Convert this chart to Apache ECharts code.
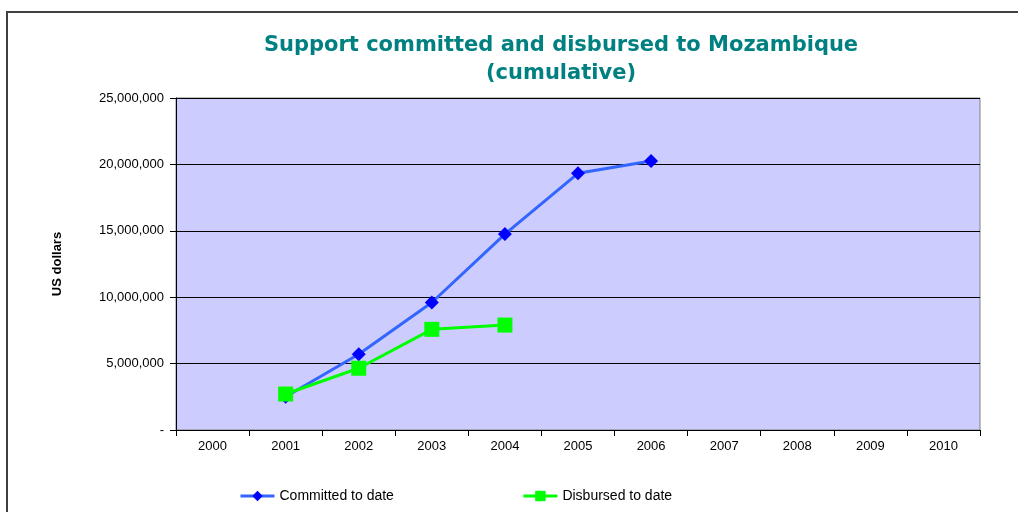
<!DOCTYPE html>
<html>
<head>
<meta charset="utf-8">
<script src="https://cdn.jsdelivr.net/npm/echarts@6/dist/echarts.min.js"></script>
<style>
  html, body { margin: 0; padding: 0; background: #fff; }
  #chart { width: 1018px; height: 512px; }
</style>
</head>
<body>
<div id="chart"></div>
<script>
const years = ['2000', '2001', '2002', '2003', '2004', '2005', '2006', '2007', '2008', '2009', '2010']
const committed = [null, 2500000, 5700000, 9600000, 14750000, 19330000, 20250000, null, null, null, null]
const disbursed = [null, 2710000, 4650000, 7580000, 7900000, null, null, null, null, null, null]

const myChart = echarts.init(document.getElementById('chart'))

const fmt = (v) => v === 0 ? '-' : v.toString().replace(/\B(?=(\d{3})+(?!\d))/g, ',')

const option = {
  animation: false,
  backgroundColor: '#fff',
  title: {
    text: 'Support committed and disbursed to Mozambique\n(cumulative)',
    left: 556,
    textAlign: 'center',
    top: 27,
    textStyle: {
      color: '#008080',
      fontFamily: 'DejaVu Sans',
      fontWeight: 'bold',
      fontSize: 21,
      lineHeight: 28
    }
  },
  graphic: [
    {
      type: 'rect',
      shape: { x: 7, y: 12, width: 1030, height: 520 },
      style: { fill: 'none', stroke: '#404040', lineWidth: 2 },
      silent: true
    }
  ],
  legend: {
    bottom: 4,
    left: 234,
    itemGap: 128,
    itemWidth: 34,
    itemHeight: 13,
    textStyle: { color: '#000', fontFamily: 'Liberation Sans', fontSize: 14 },
    data: [
      { name: 'Committed to date', lineStyle: { width: 3 } },
      { name: 'Disbursed to date', lineStyle: { width: 3 } }
    ]
  },
  grid: {
    left: 176,
    right: 38,
    top: 98,
    bottom: 82,
    show: true,
    backgroundColor: '#CCCCFF',
    borderColor: '#808080',
    borderWidth: 1
  },
  xAxis: {
    type: 'category',
    data: years,
    boundaryGap: true,
    axisLine: { lineStyle: { color: '#000', width: 1 } },
    axisTick: { show: true, length: 6, lineStyle: { color: '#000' } },
    axisLabel: { color: '#000', fontFamily: 'Liberation Sans', fontSize: 13, margin: 10 }
  },
  yAxis: {
    type: 'value',
    min: 0,
    max: 25000000,
    interval: 5000000,
    name: 'US dollars',
    nameLocation: 'middle',
    nameGap: 112,
    nameTextStyle: { color: '#000', fontFamily: 'Liberation Sans', fontWeight: 'bold', fontSize: 13 },
    axisLine: { show: true, lineStyle: { color: '#000' } },
    axisTick: { show: true, length: 6, lineStyle: { color: '#000' } },
    axisLabel: { color: '#000', fontFamily: 'Liberation Sans', fontSize: 13, margin: 12, formatter: fmt },
    splitLine: { show: true, lineStyle: { color: '#000', width: 1 } }
  },
  series: [
    {
      name: 'Committed to date',
      type: 'line',
      data: committed,
      symbol: 'diamond',
      symbolSize: 14,
      lineStyle: { color: '#3366FF', width: 3 },
      itemStyle: { color: '#0000FF' },
      z: 2
    },
    {
      name: 'Disbursed to date',
      type: 'line',
      data: disbursed,
      symbol: 'rect',
      symbolSize: 15,
      lineStyle: { color: '#00FF00', width: 3 },
      itemStyle: { color: '#00FF00' },
      z: 3
    }
  ]
}

option && myChart.setOption(option)

window.addEventListener('resize', function () {
  myChart.resize()
})
</script>
</body>
</html>
